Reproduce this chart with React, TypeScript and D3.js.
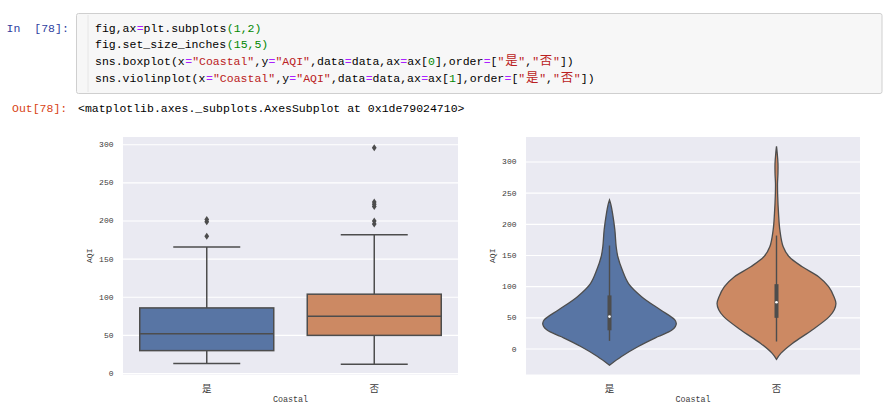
import React from "react";
import * as d3 from "d3";

// ---------- data ----------
const categories = ["是", "否"];
const boxWhiskerLow = [13, 12];
const boxQ1 = [30, 50];
const boxMedian = [52, 75];
const boxQ3 = [86, 104];
const boxWhiskerHigh = [166, 182];
const boxOutliers = [
  [180, 199, 202],
  [196, 200, 219, 222, 225, 296],
];
const yTicks = [0, 50, 100, 150, 200, 250, 300];

// violin profiles: [AQI, relative density]
const violinYes: [number, number][] = [
  [-26, 0], [-12, 0.18], [4, 0.43], [20, 0.73], [30, 0.93], [36, 0.985], [41, 1.0], [47, 0.975],
  [63, 0.76], [84, 0.48], [105, 0.285], [127, 0.19], [148, 0.125],
  [164, 0.1], [191, 0.08], [218, 0.045], [232, 0.02], [239, 0],
];
const violinNo: [number, number][] = [
  [-16.6, 0], [-7, 0.064], [9, 0.237], [30.5, 0.533], [52, 0.79], [63, 0.865], [73, 0.89], [84, 0.86],
  [100, 0.78], [116, 0.63], [132, 0.385], [148, 0.19], [164, 0.1],
  [191, 0.05], [218, 0.03], [245, 0.018], [265, 0.015], [282, 0.022],
  [298, 0.022], [315, 0.01], [325, 0],
];
const violins = [violinYes, violinNo];

const fillColors = ["#5875a4", "#cc8963"];
const lineGray = "#4d4d4d";

const codeLines: [string, string][][] = [
  [["fig,ax", "k"], ["=", "o"], ["plt.subplots", "k"], ["(1,2)", "n"]],
  [["fig.set_size_inches", "k"], ["(15,5)", "n"]],
  [["sns.boxplot(x", "k"], ["=", "o"], ['"Coastal"', "s"], [",y", "k"], ["=", "o"], ['"AQI"', "s"], [",data", "k"], ["=", "o"], ["data,ax", "k"], ["=", "o"], ["ax[", "k"], ["0", "n"], ["],order", "k"], ["=", "o"], ["[", "k"], ['"', "s"], ["是", "s"], ['"', "s"], [",", "k"], ['"', "s"], ["否", "s"], ['"', "s"], ["])", "k"]],
  [["sns.violinplot(x", "k"], ["=", "o"], ['"Coastal"', "s"], [",y", "k"], ["=", "o"], ['"AQI"', "s"], [",data", "k"], ["=", "o"], ["data,ax", "k"], ["=", "o"], ["ax[", "k"], ["1", "n"], ["],order", "k"], ["=", "o"], ["[", "k"], ['"', "s"], ["是", "s"], ['"', "s"], [",", "k"], ['"', "s"], ["否", "s"], ['"', "s"], ["])", "k"]],
];
const outText = "<matplotlib.axes._subplots.AxesSubplot at 0x1de79024710>";

const tokenColors: Record<string, string> = { k: "#000", o: "#AA22FF", n: "#008800", s: "#BA2121" };

const MONO = "'Liberation Mono', 'DejaVu Sans Mono', monospace";
const CJK = "'Noto Sans CJK SC', 'Noto Sans CJK JP', sans-serif";
const CODE_FS = 11.5;

const isCJK = (s: string) => /[\u3000-\u9fff]/.test(s);

function CodeLine({ tokens, x0, y, cw }: { tokens: [string, string][]; x0: number; y: number; cw: number }) {
  let col = 0;
  const spans: React.ReactNode[] = [];
  tokens.forEach(([t, c], i) => {
    const cjk = isCJK(t);
    const cols = cjk ? t.length * 2 : t.length;
    const x = x0 + col * cw;
    spans.push(
      <tspan
        key={i}
        x={cjk ? x + 0.7 : x}
        fill={tokenColors[c]}
        fontFamily={cjk ? CJK : MONO}
        fontSize={cjk ? 12.4 : CODE_FS}
      >
        {t}
      </tspan>
    );
    col += cols;
  });
  return (
    <text y={y} fontFamily={MONO} fontSize={CODE_FS}>
      {spans}
    </text>
  );
}

function Axes({
  x0, x1, y0, y1, domain, kind,
}: { x0: number; x1: number; y0: number; y1: number; domain: [number, number]; kind: "box" | "violin" }) {
  const y = d3.scaleLinear().domain(domain).range([y1, y0]);
  const x = d3.scaleBand().domain(categories).range([x0, x1]).padding(0);
  const bw = x.bandwidth();
  const tickColor = "#3a3a3a";
  return (
    <g>
      <rect x={x0} y={y0} width={x1 - x0} height={y1 - y0} fill="#eaeaf2" />
      {yTicks.map((t) => (
        <g key={t}>
          <line x1={x0} x2={x1} y1={y(t)} y2={y(t)} stroke="#fff" strokeWidth={1.1} />
          <text x={x0 - 9.5} y={y(t)} textAnchor="end" dominantBaseline="central" fontFamily={MONO} fontSize={8} fill={tickColor}>
            {t}
          </text>
        </g>
      ))}
      {categories.map((c, i) => {
        const cx = (x(c) as number) + bw / 2;
        if (kind === "box") {
          const w = bw * 0.8;
          const cap = w * 0.5;
          return (
            <g key={c}>
              <line x1={cx} x2={cx} y1={y(boxWhiskerLow[i])} y2={y(boxQ1[i])} stroke={lineGray} strokeWidth={1.5} />
              <line x1={cx} x2={cx} y1={y(boxQ3[i])} y2={y(boxWhiskerHigh[i])} stroke={lineGray} strokeWidth={1.5} />
              <line x1={cx - cap / 2} x2={cx + cap / 2} y1={y(boxWhiskerLow[i])} y2={y(boxWhiskerLow[i])} stroke={lineGray} strokeWidth={1.5} />
              <line x1={cx - cap / 2} x2={cx + cap / 2} y1={y(boxWhiskerHigh[i])} y2={y(boxWhiskerHigh[i])} stroke={lineGray} strokeWidth={1.5} />
              <rect x={cx - w / 2} y={y(boxQ3[i])} width={w} height={y(boxQ1[i]) - y(boxQ3[i])} fill={fillColors[i]} stroke={lineGray} strokeWidth={1.5} />
              <line x1={cx - w / 2} x2={cx + w / 2} y1={y(boxMedian[i])} y2={y(boxMedian[i])} stroke={lineGray} strokeWidth={1.5} />
              {boxOutliers[i].map((o, j) => {
                const oy = y(o);
                return <path key={j} d={`M${cx},${oy - 3.4}L${cx + 2.4},${oy}L${cx},${oy + 3.4}L${cx - 2.4},${oy}Z`} fill={lineGray} />;
              })}
            </g>
          );
        }
        const half = bw * 0.4;
        const area = d3
          .area<[number, number]>()
          .y((d) => y(d[0]))
          .x0((d) => cx - d[1] * half)
          .x1((d) => cx + d[1] * half)
          .curve(d3.curveCatmullRom.alpha(0.5));
        return (
          <g key={c}>
            <path d={area(violins[i]) as string} fill={fillColors[i]} stroke={lineGray} strokeWidth={1.3} />
            <line x1={cx} x2={cx} y1={y(boxWhiskerLow[i])} y2={y(boxWhiskerHigh[i])} stroke={lineGray} strokeWidth={1.4} />
            <line x1={cx} x2={cx} y1={y(boxQ1[i])} y2={y(boxQ3[i])} stroke={lineGray} strokeWidth={4} />
            <circle cx={cx} cy={y(boxMedian[i])} r={1.3} fill="#fff" />
          </g>
        );
      })}
      {categories.map((c) => (
        <text key={c} x={(x(c) as number) + bw / 2} y={388} textAnchor="middle" dominantBaseline="central" fontFamily={CJK} fontSize={9.5} fill={tickColor}>
          {c}
        </text>
      ))}
      <text x={(x0 + x1) / 2} y={399.5} textAnchor="middle" dominantBaseline="central" fontFamily={MONO} fontSize={8.4} fill={tickColor}>
        Coastal
      </text>
      <text
        transform={`translate(${x0 - 33.5},${(y0 + y1) / 2}) rotate(-90)`}
        textAnchor="middle"
        dominantBaseline="central"
        fontFamily={MONO}
        fontSize={8}
        fill={tickColor}
      >
        AQI
      </text>
    </g>
  );
}

export default function App() {
  const cw = 6.94;
  return (
    <svg width={889} height={416} style={{ position: "absolute", left: 0, top: 0, background: "#fff" }}>
      <rect x={0} y={0} width={889} height={416} fill="#fff" />
      {/* input prompt */}
      <text x={6.5} y={32} fontFamily={MONO} fontSize={CODE_FS} fill="#303F9F">In</text>
      <text x={34.3} y={32} fontFamily={MONO} fontSize={CODE_FS} fill="#303F9F">[78]:</text>
      {/* code cell */}
      <rect x={76.5} y={13.5} width={805.5} height={80} rx={2} fill="#f7f7f7" stroke="#cfcfcf" />
      <line x1={88} x2={88} y1={15} y2={92} stroke="#e6e6e6" />
      {codeLines.map((ln, i) => (
        <CodeLine key={i} tokens={ln} x0={95} y={31.7 + i * 16.7} cw={cw} />
      ))}
      {/* output prompt */}
      <text x={12} y={112} fontFamily={MONO} fontSize={CODE_FS} fill="#D84315">Out[78]:</text>
      <text x={78} y={112} fontFamily={MONO} fontSize={CODE_FS} fill="#000">
        {outText}
      </text>
      <Axes x0={123} x1={458} y0={137} y1={374.5} domain={[-1.3, 310.1]} kind="box" />
      <Axes x0={526} x1={860} y0={137} y1={374.5} domain={[-40.9, 340.1]} kind="violin" />
    </svg>
  );
}
